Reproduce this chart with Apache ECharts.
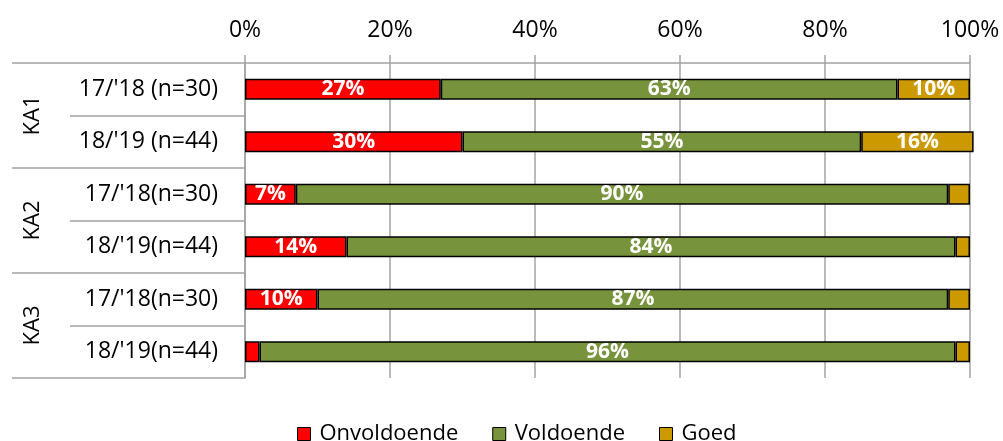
<!DOCTYPE html>
<html>
<head>
<meta charset="utf-8">
<script src="https://cdn.jsdelivr.net/npm/echarts@6/dist/echarts.min.js"></script>
<style>
  html, body { margin: 0; padding: 0; background: #fff; }
  #chart { width: 1003px; height: 441px; }
</style>
</head>
<body>
<div id="chart"></div>
<script>
// rows, top to bottom
const rows = ["17/'18 (n=30)", "18/'19 (n=44)", "17/'18(n=30)", "18/'19(n=44)", "17/'18(n=30)", "18/'19(n=44)"];
const groups = ['KA1', 'KA2', 'KA3'];
const onvoldoende = [27, 30, 7, 14, 10, 2];
const voldoende = [63, 55, 90, 84, 87, 96];
const goed = [10, 15.5, 3, 2, 3, 2];
const xTicks = [0, 20, 40, 60, 80, 100];

const font = '"Open Sans", "Noto Sans", sans-serif';
const gridColor = '#a3a3a3';

const chart = echarts.init(document.getElementById('chart'));

const makeSeries = (name, data, color) => ({
  name: name,
  type: 'bar',
  stack: 'total',
  data: data,
  barWidth: 21,
  clip: false,
  itemStyle: { color: color, borderColor: '#000', borderWidth: 1.5 },
  label: {
    show: true,
    position: 'inside',
    color: '#fff',
    fontFamily: font,
    fontWeight: 'bold',
    fontSize: 21,
    // kleine segmenten krijgen geen label
    formatter: (p) => (p.value >= 5 ? Math.round(p.value) + '%' : '')
  }
});

chart.setOption({
  animation: false,
  textStyle: { fontFamily: font },
  grid: { left: 245, right: 33, top: 63, bottom: 63 },
  legend: {
    top: 418,
    left: 292,
    itemGap: 34,
    itemWidth: 13,
    itemHeight: 13,
    icon: 'rect',
    textStyle: { fontSize: 22, color: '#000', fontFamily: font, padding: [0, 0, 0, 4] },
    itemStyle: { borderColor: '#000', borderWidth: 1 }
  },
  xAxis: {
    type: 'value',
    position: 'top',
    min: xTicks[0],
    max: xTicks[xTicks.length - 1],
    interval: 20,
    axisLine: { show: true, lineStyle: { color: gridColor, width: 1.5 } },
    axisTick: { show: true, length: 8, lineStyle: { color: gridColor, width: 1.5 } },
    splitLine: { show: true, lineStyle: { color: gridColor, width: 1.5 } },
    axisLabel: { formatter: '{value}%', fontSize: 23, color: '#000', margin: 21, fontFamily: font }
  },
  yAxis: [
    {
      type: 'category',
      inverse: true,
      data: rows,
      axisLine: { show: true, lineStyle: { color: gridColor, width: 1.5 } },
      axisTick: { show: true, length: 175, lineStyle: { color: gridColor, width: 1.5 } },
      axisLabel: { fontSize: 23, color: '#000', margin: 27, fontFamily: font }
    },
    {
      type: 'category',
      inverse: true,
      position: 'left',
      offset: 0,
      data: groups,
      axisLine: { show: false },
      axisTick: { show: true, length: 233, lineStyle: { color: gridColor, width: 1.5 } },
      axisLabel: { fontSize: 22, color: '#000', rotate: 90, margin: 201, fontFamily: font }
    }
  ],
  series: [
    makeSeries('Onvoldoende', onvoldoende, '#ff0000'),
    makeSeries('Voldoende', voldoende, '#77933c'),
    makeSeries('Goed', goed, '#cc9900')
  ]
});
</script>
</body>
</html>
